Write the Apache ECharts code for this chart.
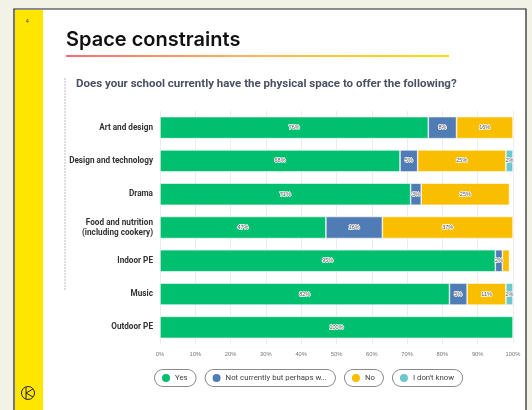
<!DOCTYPE html>
<html>
<head>
<meta charset="utf-8">
<script src="https://cdn.jsdelivr.net/npm/echarts@6/dist/echarts.min.js"></script>
<style>
  html, body { margin: 0; padding: 0; background: #f2f2e6; }
  #main { width: 532px; height: 410px; }
</style>
</head>
<body>
<div id="main"></div>
<script>
// categories (top to bottom)
var subjects = ['Art and design', 'Design and technology', 'Drama', 'Food and nutrition\n(including cookery)', 'Indoor PE', 'Music', 'Outdoor PE'];
var seriesNames = ['Yes', 'Not currently but perhaps w...', 'No', "I don't know"];
var seriesColors = ['#00bf6f', '#507cb6', '#f9be00', '#6bc8cd'];
// percentages per subject, same order as subjects
var yesVals = [76, 68, 71, 47, 95, 82, 100];
var notYetVals = [8, 5, 3, 16, 2, 5, 0];
var noVals = [16, 25, 25, 37, 2, 11, 0];
var dontKnowVals = [0, 2, 0, 0, 0, 2, 0];
var tickLabels = ['0%', '10%', '20%', '30%', '40%', '50%', '60%', '70%', '80%', '90%', '100%'];

var chart = echarts.init(document.getElementById('main'));

var allVals = [yesVals, notYetVals, noVals, dontKnowVals];
var yCats = subjects.slice().reverse();
var hideLabel = { 'Indoor PE|2': true };

var series = seriesNames.map(function (name, si) {
    return {
        name: name,
        type: 'bar',
        stack: 'total',
        barCategoryGap: '34%',
        itemStyle: { color: seriesColors[si], borderColor: '#ffffff', borderWidth: 0.6 },
        label: {
            show: true,
            position: 'inside',
            fontSize: 5.5,
            color: '#555',
            textBorderColor: '#fff',
            textBorderWidth: 1.5,
            formatter: function (p) {
                if (!p.value || hideLabel[yCats[p.dataIndex] + '|' + si]) return '';
                return p.value + '%';
            }
        },
        data: allVals[si].slice().reverse().map(function (v) { return v === 0 ? null : v; })
    };
});

var richDots = {};
seriesColors.forEach(function (c, i) {
    richDots['d' + i] = { width: 8, height: 8, borderRadius: 4, backgroundColor: c };
});
richDots.t = { fontSize: 7.8, color: '#444', padding: [0, 0, 0, 5], fontFamily: 'Roboto' };

var option = {
    backgroundColor: '#f2f2e6',
    animation: false,
    grid: { left: 160, right: 19, top: 111, bottom: 66, containLabel: false },
    xAxis: {
        type: 'value',
        min: 0, max: 100, interval: 10,
        axisLine: { show: false },
        axisTick: { show: false },
        axisLabel: {
            fontSize: 5.8, color: '#777', margin: 7,
            formatter: function (v) { return tickLabels[v / 10]; }
        },
        splitLine: { lineStyle: { color: '#ececec', width: 1 } }
    },
    yAxis: {
        type: 'category',
        data: yCats,
        axisLine: { show: false },
        axisTick: { show: false },
        axisLabel: { fontSize: 8.2, fontWeight: 'bold', color: '#333', margin: 7, lineHeight: 10, fontFamily: 'Roboto' }
    },
    legend: {
        left: 145, top: 364,
        itemGap: 4,
        itemWidth: 0, itemHeight: 0,
        icon: 'none',
        selectedMode: false,
        data: seriesNames,
        formatter: function (name) {
            return '{d' + seriesNames.indexOf(name) + '| }{t|' + name + '}';
        },
        textStyle: {
            borderColor: '#8a8a8a', borderWidth: 1, borderRadius: 9,
            padding: [4, 8, 4, 7], backgroundColor: '#fff',
            rich: richDots
        }
    },
    graphic: [
        { type: 'rect', shape: { x: 14, y: 9, width: 512, height: 410 }, style: { fill: '#ffffff', stroke: '#222', lineWidth: 1.2 }, z: -10 },
        { type: 'rect', shape: { x: 15, y: 10, width: 28, height: 400 }, style: { fill: '#ffe600' }, z: -9 },
        { type: 'text', left: 26, top: 19, style: { text: '4', fontSize: 5, fill: '#333' } },
        { type: 'text', left: 66, top: 30, style: { text: 'Space constraints', fontSize: 20, fontWeight: 600, fontFamily: 'Inter', fill: '#111' } },
        { type: 'rect', shape: { x: 66, y: 55, width: 383, height: 2 },
          style: { fill: new echarts.graphic.LinearGradient(0, 0, 1, 0, [{ offset: 0, color: '#f86a78' }, { offset: 0.45, color: '#fbb45a' }, { offset: 1, color: '#f8e000' }]) } },
        { type: 'line', shape: { x1: 65, y1: 78, x2: 65, y2: 290 }, style: { stroke: '#bbbbbb', lineWidth: 1, lineDash: [2, 1] } },
        { type: 'text', left: 76, top: 78, style: { text: 'Does your school currently have the physical space to offer the following?', fontSize: 11.5, fontWeight: 'bold', fontFamily: 'Roboto', fill: '#4b5162' } },
        { type: 'circle', shape: { cx: 28, cy: 393, r: 6.5 }, style: { fill: 'none', stroke: '#222', lineWidth: 1 } },
        { type: 'line', shape: { x1: 26, y1: 387, x2: 26, y2: 399 }, style: { stroke: '#222', lineWidth: 1 } },
        { type: 'line', shape: { x1: 26, y1: 393, x2: 33, y2: 389 }, style: { stroke: '#222', lineWidth: 1 } },
        { type: 'line', shape: { x1: 26, y1: 393, x2: 33, y2: 397 }, style: { stroke: '#222', lineWidth: 1 } }
    ],
    series: series
};

chart.setOption(option);
</script>
</body>
</html>
